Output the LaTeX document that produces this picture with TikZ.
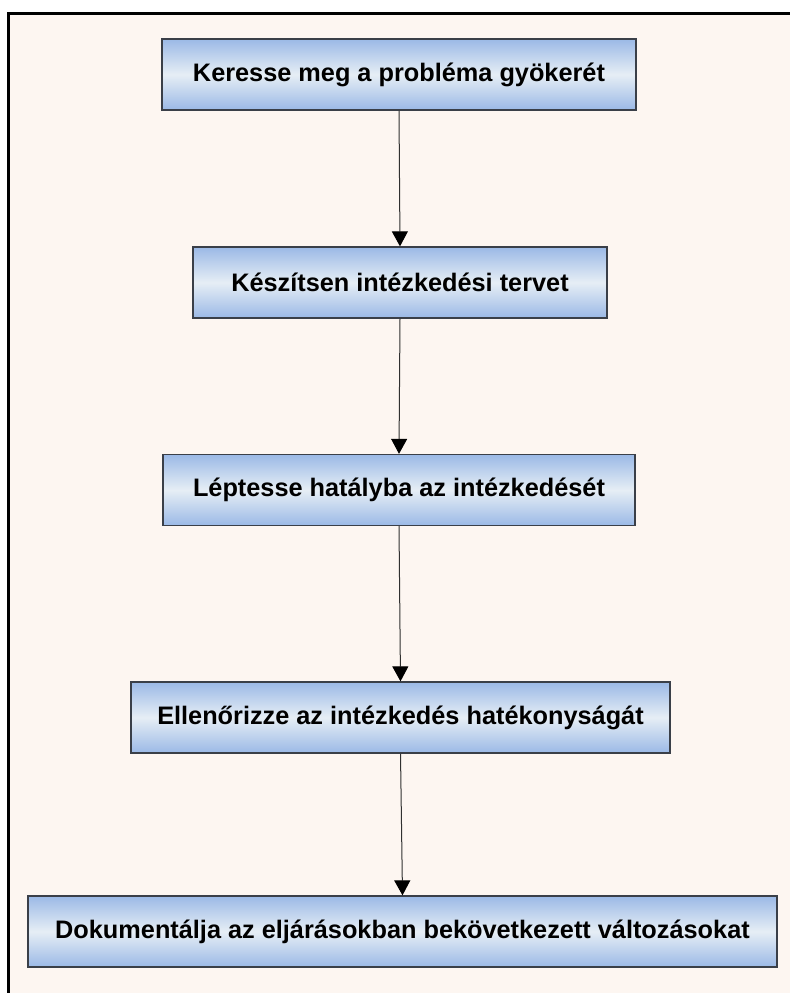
\documentclass[tikz,border=0pt]{standalone}
\usepackage{fontspec}
\setmainfont{Liberation Sans}
\usetikzlibrary{arrows.meta}
\definecolor{bgpeach}{HTML}{FDF6F1}
\definecolor{boxblue}{HTML}{9BB9E6}
\definecolor{boxmid}{HTML}{E6EEF5}
\definecolor{boxedge}{HTML}{3A3F48}
\definecolor{arrowgray}{HTML}{303030}
\tikzset{
  stepbox/.style={rectangle, draw=boxedge, line width=1.3pt, inner sep=0pt,
    top color=boxblue, bottom color=boxblue, middle color=boxmid,
    minimum height=71pt, align=center,
    font=\fontsize{25.3}{30}\selectfont\bfseries},
  flowarrow/.style={draw=arrowgray, line width=1pt,
    -{Triangle[width=16pt,length=15pt,fill=black,color=black]}}
}
\begin{document}
\begin{tikzpicture}[x=1pt,y=1pt]
\useasboundingbox (0,0) rectangle (790,-993);
\fill[white] (0,0) rectangle (790,-993);
\fill[bgpeach] (8.5,-13.5) rectangle (790,-993);
\draw[black, line width=3.2pt] (8.5,-993) -- (8.5,-13.5) -- (790,-13.5);

\node[stepbox, minimum width=474pt] (b1) at (399,-74.5) {Keresse meg a probléma gyökerét};
\node[stepbox, minimum width=414pt] (b2) at (400,-282.5) {Készítsen intézkedési tervet};
\node[stepbox, minimum width=472pt] (b3) at (399,-490) {Léptesse hatályba az intézkedését};
\node[stepbox, minimum width=539pt] (b4) at (400.5,-717.5) {Ellenőrizze az intézkedés hatékonyságát};
\node[stepbox, minimum width=749pt] (b5) at (402.5,-931.5) {Dokumentálja az eljárásokban bekövetkezett változásokat};

\draw[flowarrow] (b1.south) -- (b2.north);
\draw[flowarrow] (b2.south) -- (b3.north);
\draw[flowarrow] (b3.south) -- (b4.north);
\draw[flowarrow] (b4.south) -- (b5.north);
\end{tikzpicture}
\end{document}
